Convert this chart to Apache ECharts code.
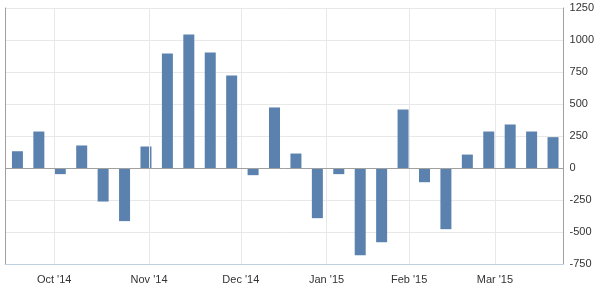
<!DOCTYPE html>
<html>
<head>
<meta charset="utf-8">
<script src="https://cdn.jsdelivr.net/npm/echarts@6/dist/echarts.min.js"></script>
<style>
html,body{margin:0;padding:0;background:#fff;}
#chart{width:597px;height:294px;}
</style>
</head>
<body>
<div id="chart"></div>
<script>
// Weekly observations (ordinal axis: bars evenly spaced, Jan 2 week missing)
var dates = ['2014-09-19','2014-09-26','2014-10-03','2014-10-10','2014-10-17','2014-10-24','2014-10-31',
  '2014-11-07','2014-11-14','2014-11-21','2014-11-28','2014-12-05','2014-12-12','2014-12-19','2014-12-26',
  '2015-01-09','2015-01-16','2015-01-23','2015-01-30','2015-02-06','2015-02-13','2015-02-20','2015-02-27',
  '2015-03-06','2015-03-13','2015-03-20'];
var values = [131, 285, -48, 176, -262, -415, 168, 895, 1043, 902, 723, -56, 473, 113, -392, -48, -681, -580, 457, -111, -478, 105, 285, 340, 285, 241];
var monthDates = ['2014-10-01','2014-11-01','2014-12-01','2015-01-01','2015-02-01','2015-03-01'];
var monthLabels = ["Oct '14","Nov '14","Dec '14","Jan '15","Feb '15","Mar '15"];
var yTicks = [-750, -500, -250, 0, 250, 500, 750, 1000, 1250];

function t(d){ return new Date(d + 'T00:00:00Z').getTime(); }
var times = dates.map(t);
// ordinal position of a date between observations
function ordinal(d){
  var x = t(d);
  for (var k = 0; k < times.length - 1; k++) {
    if (x >= times[k] && x < times[k+1]) return k + (x - times[k]) / (times[k+1] - times[k]);
  }
  return times.length - 1;
}
var monthPos = monthDates.map(ordinal);
var barData = values.map(function(v, i){ return [i, v]; });

var chart = echarts.init(document.getElementById('chart'), null, {renderer:'canvas'});
var font = 'Liberation Sans, Arial, sans-serif';
chart.setOption({
  animation: false,
  grid: {left: 5, right: 33, top: 8, bottom: 30, containLabel: false},
  xAxis: {
    type: 'value', min: -0.58, max: 25.49,
    axisLine: {show: true, onZero: false, lineStyle: {color: '#c0d0e0', width: 1}},
    axisTick: {show: false},
    splitLine: {show: false},
    axisLabel: {
      customValues: monthPos,
      formatter: function(v){
        for (var i = 0; i < monthPos.length; i++) if (Math.abs(monthPos[i]-v) < 1e-6) return monthLabels[i];
        return '';
      },
      color: '#333', fontSize: 11, fontFamily: font, margin: 10
    }
  },
  yAxis: [{
    type: 'value', position: 'right', min: yTicks[0], max: yTicks[yTicks.length-1], interval: 250,
    axisLine: {show: true, onZero: false, lineStyle: {color: '#a0a0a0'}},
    axisTick: {show: false},
    splitLine: {show: true, lineStyle: {color: '#e8e8e8', width: 1}},
    axisLabel: {color: '#333', fontSize: 11, fontFamily: font, margin: 6, align: 'left', verticalAlign: 'middle',
      formatter: function(v){ return String(v); }}
  },{
    type: 'value', position: 'left', min: yTicks[0], max: yTicks[yTicks.length-1], interval: 250,
    axisLine: {show: true, onZero: false, lineStyle: {color: '#a0a0a0'}},
    axisTick: {show: false}, axisLabel: {show: false}, splitLine: {show: false}
  }],
  series: [{
    type: 'line', data: [], z: 1, silent: true,
    markLine: {
      silent: true, symbol: ['none','none'], label: {show: false},
      lineStyle: {color: '#e8e8e8', type: 'solid', width: 1},
      data: monthPos.map(function(p){ return {xAxis: p}; })
    }
  },{
    type: 'bar', data: barData, barWidth: 11, z: 2,
    itemStyle: {color: '#5b82ae'},
    markLine: {
      silent: true, symbol: ['none','none'], label: {show: false},
      lineStyle: {color: '#a0a0a0', type: 'solid', width: 1},
      data: [{yAxis: 0}]
    }
  }]
});
</script>
</body>
</html>
